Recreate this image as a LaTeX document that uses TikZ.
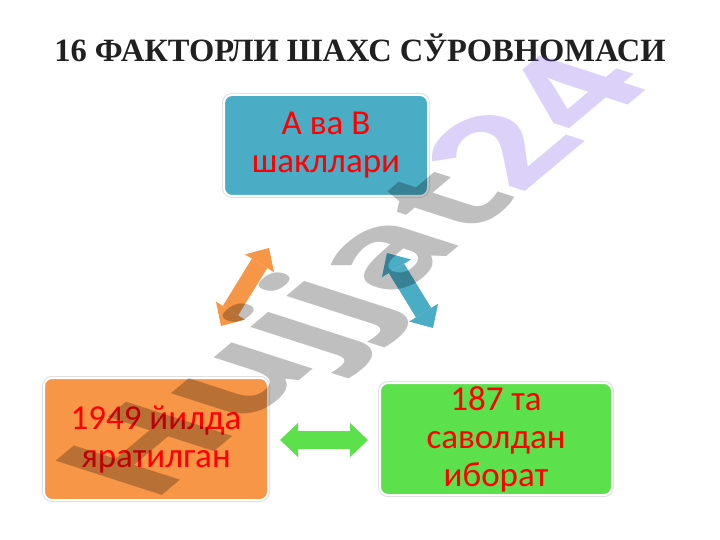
\documentclass[tikz,border=0pt]{standalone}
\usepackage{fontspec}
\setmainfont{Liberation Serif}
\newfontfamily\calib{Carlito}
\newfontfamily\wmfont{Open Sans}
\usetikzlibrary{arrows.meta}
\definecolor{boxblue}{RGB}{75,172,198}
\definecolor{boxorange}{RGB}{247,150,70}
\definecolor{boxgreen}{RGB}{92,224,75}
\definecolor{txtred}{RGB}{255,0,0}
\definecolor{titlegray}{RGB}{32,32,32}
\definecolor{wmgray}{RGB}{0,0,0}
\definecolor{wmlav}{RGB}{115,75,235}
\begin{document}
\begin{tikzpicture}[x=1pt,y=-1pt,
  box/.style={rounded corners=8pt, inner sep=0pt, align=center, text=txtred,
    font=\calib\fontsize{35}{38}\selectfont,
    preaction={draw=black!12, line width=4pt},
    draw=white, line width=2pt},
  blockarr/.style={line width=18pt,
    {Triangle[length=18pt,width=34pt,line width=0pt]}-{Triangle[length=18pt,width=34pt,line width=0pt]}}
]
\useasboundingbox (0,0) rectangle (720,540);
\fill[white] (0,0) rectangle (720,540);

\node[anchor=base, font=\bfseries\fontsize{32.5}{36}\selectfont, text=titlegray] (title) at (360,62) {16 ФАКТОРЛИ ШАХС СЎРОВНОМАСИ};

\node[box, fill=boxblue, minimum width=204pt, minimum height=101pt] (top) at (326,145.5) {А ва В\\шакллари};
\node[box, fill=boxorange, minimum width=224pt, minimum height=122pt] (left) at (156,439) {1949 йилда\\яратилган};
\node[box, fill=boxgreen, minimum width=232pt, minimum height=112pt] (right) at (496,439) {187 та\\саволдан\\иборат};

\coordinate (o1) at (221,326);
\coordinate (o2) at (269,248);
\coordinate (b1) at (387,253);
\coordinate (b2) at (433,328);
\coordinate (g1) at (280,440);
\coordinate (g2) at (368,440);
\draw[blockarr, draw=boxorange] (o1) -- (o2);
\draw[blockarr, draw=boxblue] (b1) -- (b2);
\draw[blockarr, draw=boxgreen] (g1) -- (g2);

\begin{scope}[shift={(151,505)}]
\node[cm={0.776,0.651,-0.96,0.31,(0,0)}, transform shape, anchor=base west,
  inner sep=0pt, text opacity=0.25,
  font=\wmfont\bfseries\fontsize{155}{155}\selectfont] (wm) at (0,0)
  {\textcolor{wmgray}{Hujjat}\textcolor{wmlav}{24}};
\end{scope}
\end{tikzpicture}
\end{document}
